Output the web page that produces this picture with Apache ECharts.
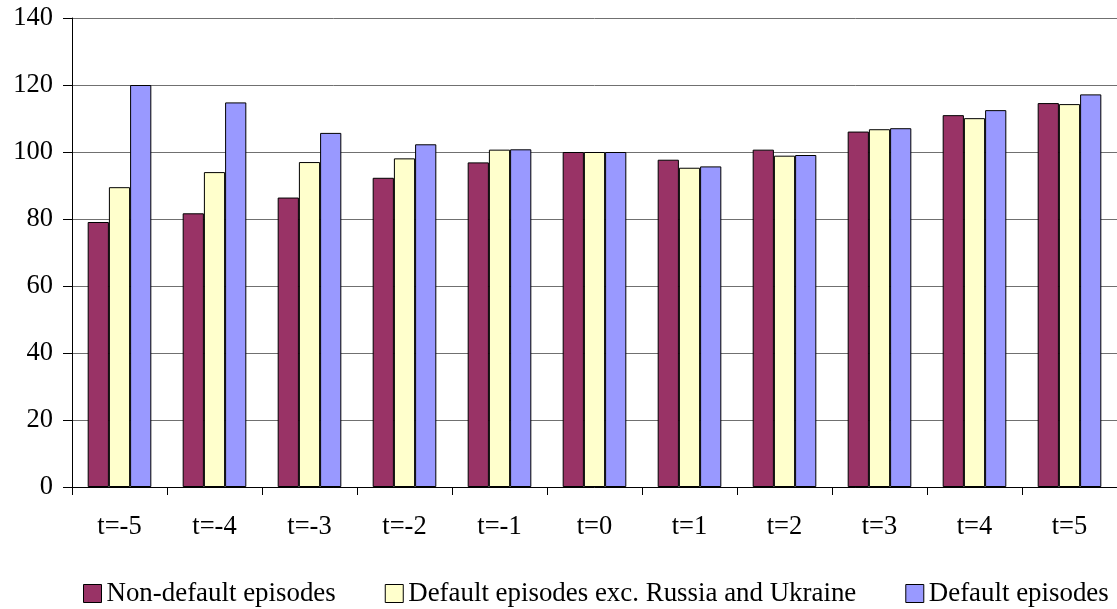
<!DOCTYPE html>
<html>
<head>
<meta charset="utf-8">
<script src="https://cdn.jsdelivr.net/npm/echarts@6/dist/echarts.min.js"></script>
<style>
html,body{margin:0;padding:0;background:#fff;}
#chart{width:1117px;height:609px;}
</style>
</head>
<body>
<div id="chart"></div>
<script>
const categories = ["t=-5","t=-4","t=-3","t=-2","t=-1","t=0","t=1","t=2","t=3","t=4","t=5"];
const nonDefault = [79.1, 81.7, 86.4, 92.3, 96.9, 100, 97.7, 100.7, 106.1, 111.0, 114.6];
const defaultExRU = [89.5, 94.0, 97.0, 98.1, 100.7, 100, 95.3, 98.9, 106.8, 110.1, 114.3];
const defaultAll = [120.0, 114.8, 105.7, 102.3, 100.8, 100, 95.7, 99.1, 107.1, 112.5, 117.2];
const seriesNames = ["Non-default episodes", "Default episodes exc. Russia and Ukraine", "Default episodes"];
const yTicks = [0, 20, 40, 60, 80, 100, 120, 140];

const FONT = '"Liberation Serif", "Times New Roman", serif';
const chart = echarts.init(document.getElementById('chart'), null, {renderer: 'canvas'});
const colors = ['#993366', '#FFFFCC', '#9999FF'];
const dataArr = [nonDefault, defaultExRU, defaultAll];

chart.setOption({
  animation: false,
  backgroundColor: '#ffffff',
  grid: {left: 72, right: 0, top: 18, bottom: 122, containLabel: false},
  legend: {
    left: 83, top: 580, padding: 0,
    itemWidth: 18, itemHeight: 18, itemGap: 49,
    icon: 'rect',
    textStyle: {fontFamily: FONT, fontSize: 26.9, color: '#000', lineHeight: 18},
    data: seriesNames.map((n, i) => ({name: n, itemStyle: {color: colors[i], borderColor: '#000', borderWidth: 1}}))
  },
  xAxis: {
    type: 'category',
    data: categories,
    boundaryGap: true,
    axisLine: {show: true, lineStyle: {color: '#000', width: 1}},
    axisTick: {show: true, length: 8, inside: false, lineStyle: {color: '#000'}},
    axisLabel: {fontFamily: FONT, fontSize: 26.5, color: '#000', margin: 27},
    splitLine: {show: false}
  },
  yAxis: {
    type: 'value',
    min: yTicks[0], max: yTicks[yTicks.length - 1], interval: 20,
    axisLine: {show: true, lineStyle: {color: '#000', width: 1}},
    axisTick: {show: true, length: 9, lineStyle: {color: '#000'}},
    axisLabel: {fontFamily: FONT, fontSize: 26.5, color: '#000', margin: 19},
    splitLine: {show: true, lineStyle: {color: '#707070', width: 1}}
  },
  series: seriesNames.map((n, i) => ({
    name: n,
    type: 'bar',
    data: dataArr[i],
    barGap: '0%',
    barCategoryGap: '33%',
    itemStyle: {color: colors[i], borderColor: '#000', borderWidth: 1}
  }))
});
</script>
</body>
</html>
